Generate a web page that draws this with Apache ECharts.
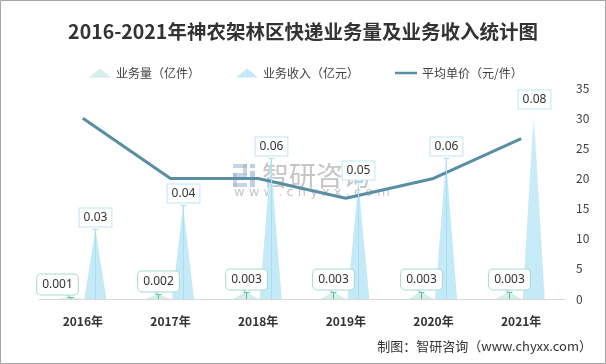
<!DOCTYPE html>
<html><head><meta charset="utf-8">
<script src="https://cdn.jsdelivr.net/npm/echarts@6/dist/echarts.min.js"></script>
<style>html,body{margin:0;padding:0;background:#fff}#c{width:606px;height:364px}</style>
</head><body><div id="c"></div>
<script>
var categories = ['2016年', '2017年', '2018年', '2019年', '2020年', '2021年'];
var volume = [0.001, 0.002, 0.003, 0.003, 0.003, 0.003];   // 业务量（亿件）
var revenue = [0.03, 0.04, 0.06, 0.05, 0.06, 0.08];        // 业务收入（亿元）
var price = [30, 20, 20, 16.7, 20, 26.6];                  // 平均单价（元/件）
var seriesNames = ['业务量（亿件）', '业务收入（亿元）', '平均单价（元/件）'];

var FONT = '"Noto Sans CJK SC", "Noto Sans", sans-serif';
var chart = echarts.init(document.getElementById('c'), null, {renderer: 'canvas'});

var revColor = '#c5eaf7';
var volColor = '#d2eee8';
var revGrad = new echarts.graphic.LinearGradient(0, 0, 0, 1, [
  {offset: 0, color: 'rgba(197,234,247,0.05)'},
  {offset: 0.13, color: 'rgba(197,234,247,0.9)'},
  {offset: 1, color: revColor}
]);

function annotation(vals, dx, opt) {
  return {
    type: 'custom', xAxisIndex: 0, yAxisIndex: 0, z: 6, silent: true,
    data: vals.map(function (v, i) { return [i, v]; }),
    renderItem: function (params, api) {
      var i = api.value(0), v = api.value(1);
      var p0 = api.coord([i, 0]), p1 = api.coord([i, v]);
      var x = Math.round(p0[0] + dx) + 0.5;
      var y0 = p0[1], y1 = Math.round(p1[1]) + 0.5;
      var ch = [];
      if (opt.leader(i)) {
        ch.push({type: 'line', shape: {x1: x, y1: y1, x2: x, y2: y0}, style: {stroke: opt.lineColor, lineWidth: 1}});
        ch.push({type: 'line', shape: {x1: x - 3, y1: y1, x2: x + 3, y2: y1}, style: {stroke: opt.lineColor, lineWidth: 1}});
      }
      var bx = x + opt.shift(i);
      var by = y1 - 3;
      if (opt.pointer) {
        ch.push({type: 'polygon', shape: {points: [[x - 8, by - 2], [x - 3, by - 2], [x - 0.5, y1]]},
          style: {fill: '#fff', stroke: opt.boxColor, lineWidth: 1}});
      }
      ch.push({type: 'text', x: bx, y: by, style: {
        text: v.toFixed(opt.dec), align: 'center', verticalAlign: 'bottom',
        fill: '#333', font: '12px "Noto Sans", sans-serif', lineHeight: 13,
        backgroundColor: '#fff', borderColor: opt.boxColor, borderWidth: 1,
        borderRadius: opt.radius, padding: opt.padding
      }});
      return {type: 'group', children: ch};
    }
  };
}

var option = {
  animation: false,
  backgroundColor: '#fff',
  title: {
    text: '2016-2021年神农架林区快递业务量及业务收入统计图',
    left: 'center', top: 17,
    textStyle: {fontFamily: FONT, fontSize: 19.5, fontWeight: 'bold', color: '#333'}
  },
  legend: {
    left: 84, top: 62, itemWidth: 22, itemHeight: 9, itemGap: 36,
    textStyle: {fontFamily: FONT, fontSize: 12, color: '#404040'},
    data: [
      {name: seriesNames[0], icon: 'triangle'},
      {name: seriesNames[1], icon: 'triangle'},
      {name: seriesNames[2], icon: 'path://M0,0 L26,0 L26,0.05 Z M0,3.4 L26,3.4 L26,6.6 L0,6.6 Z M0,10 L26,10 L26,9.95 Z'}
    ]
  },
  grid: {left: 39, right: 41, top: 88, bottom: 65, outerBoundsMode: 'none'},
  xAxis: {
    type: 'category', data: categories,
    axisLine: {lineStyle: {color: '#d9d9d9', width: 1}},
    axisTick: {show: false},
    axisLabel: {color: '#333', fontWeight: 'bold', fontSize: 12, fontFamily: FONT, margin: 16}
  },
  yAxis: [
    {type: 'value', min: 0, max: 0.09, show: false, splitLine: {show: false}},
    {type: 'value', position: 'right', min: 0, max: 35, interval: 5,
      axisLine: {show: false}, axisTick: {show: false}, splitLine: {show: false},
      axisLabel: {color: '#404040', fontSize: 12, fontFamily: FONT, margin: 11}}
  ],
  series: [
    {
      name: seriesNames[0], type: 'pictorialBar', yAxisIndex: 0,
      symbol: 'triangle', symbolSize: [26, '100%'], barWidth: 22, barGap: '14%',
      itemStyle: {color: volColor}, z: 2,
      data: volume
    },
    {
      name: seriesNames[1], type: 'pictorialBar', yAxisIndex: 0,
      symbol: 'triangle', symbolSize: [22, '100%'], barWidth: 22, barGap: '14%',
      itemStyle: {color: revColor}, z: 2,
      data: revenue.map(function (v, i) { return i === revenue.length - 1 ? {value: v, itemStyle: {color: revGrad}} : v; })
    },
    {
      name: seriesNames[2], type: 'line', yAxisIndex: 1,
      symbol: 'none', lineStyle: {color: '#5a8ea2', width: 3}, itemStyle: {color: '#5a8ea2'}, z: 4,
      data: price
    },
    annotation(revenue, 12.5, {
      dec: 2, lineColor: '#a9ddf0', boxColor: '#bde5f4', radius: 0, padding: [3, 4, 2, 4],
      pointer: false, leader: function (i) { return i !== 5; }, shift: function () { return 0; }
    }),
    annotation(volume, -12.5, {
      dec: 3, lineColor: '#5fb8a6', boxColor: '#a6dad1', radius: 4, padding: [4, 5, 3, 5],
      pointer: true, leader: function () { return true; }, shift: function (i) { return i === 0 ? -13 : 0; }
    })
  ],
  graphic: [
    {type: 'group', z: 100, silent: true, children: [
      {type: 'rect', shape: {x: 233, y: 164, width: 14, height: 4}, style: {fill: 'rgba(160,176,206,0.55)'}},
      {type: 'rect', shape: {x: 243, y: 164, width: 4, height: 11}, style: {fill: 'rgba(160,176,206,0.55)'}},
      {type: 'rect', shape: {x: 233, y: 173, width: 14, height: 4}, style: {fill: 'rgba(160,176,206,0.55)'}},
      {type: 'rect', shape: {x: 233, y: 173, width: 4, height: 14}, style: {fill: 'rgba(160,176,206,0.55)'}},
      {type: 'rect', shape: {x: 233, y: 183, width: 14, height: 4}, style: {fill: 'rgba(160,176,206,0.55)'}},
      {type: 'rect', shape: {x: 250, y: 164, width: 5, height: 4}, style: {fill: 'rgba(130,170,215,0.55)'}},
      {type: 'rect', shape: {x: 250, y: 171, width: 5, height: 16}, style: {fill: 'rgba(130,170,215,0.55)'}},
      {type: 'text', x: 262, y: 176, style: {text: '智研咨询', font: '27px "Noto Sans CJK SC"', fill: 'rgba(150,150,150,0.55)', verticalAlign: 'middle'}},
      {type: 'text', x: 234, y: 193, style: {text: 'w w w . c h y x x . c o m', font: '13px "DejaVu Sans"', fill: 'rgba(150,150,150,0.55)', verticalAlign: 'middle'}}
    ]},
    {type: 'text', right: 14, top: 340, z: 100, style: {text: '制图：智研咨询（www.chyxx.com）', font: '13px "Noto Sans CJK SC"', fill: '#333'}},
    {type: 'rect', z: 101, silent: true, shape: {x: 0.5, y: 0.5, width: 605, height: 363}, style: {fill: 'none', stroke: '#a6a6a6', lineWidth: 1}}
  ]
};
chart.setOption(option);
</script>
</body></html>
